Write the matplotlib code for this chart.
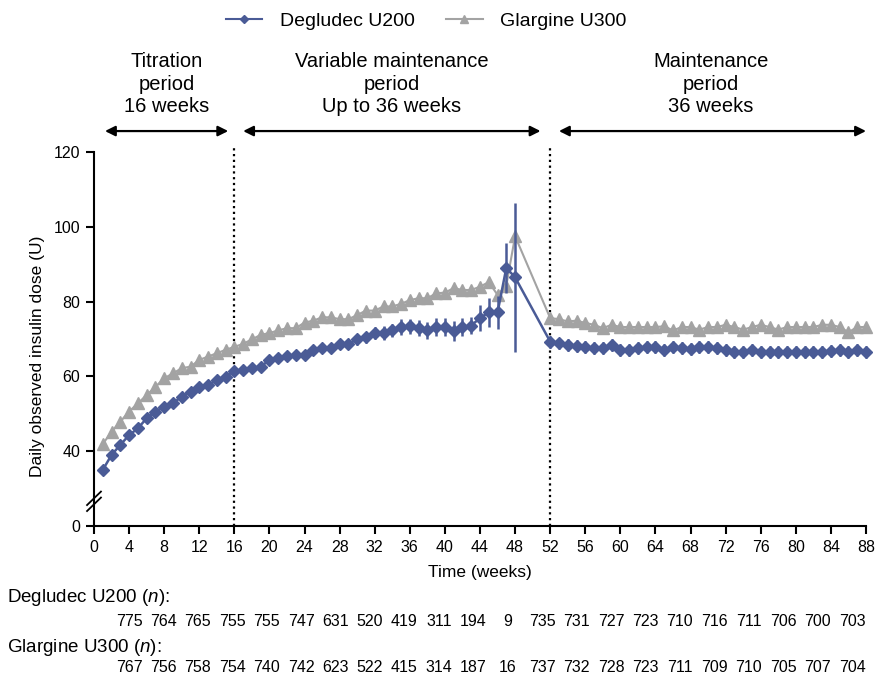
import matplotlib
matplotlib.use("Agg")
import matplotlib.pyplot as plt
from matplotlib.lines import Line2D
import numpy as np

plt.rcParams['font.family'] = ['Liberation Sans', 'DejaVu Sans']
plt.rcParams['mathtext.fontset'] = 'custom'
plt.rcParams['mathtext.rm'] = 'Liberation Sans'
plt.rcParams['mathtext.it'] = 'Liberation Sans:italic'

BLUE = '#4a5b96'
GREY = '#a3a3a3'

# weeks with observations
weeks = list(range(1, 49)) + list(range(52, 89))

# Degludec U200 mean daily dose (U)
deg_titration = [35.0, 39.0, 41.7, 44.3, 46.1, 48.8, 50.6, 51.9, 52.8, 54.6,
                 55.9, 57.2, 57.7, 59.0, 59.9, 61.5]
deg_variable = [61.8, 62.2, 62.6, 64.4, 64.8, 65.5, 65.7, 65.7, 67.1, 67.5,
                67.5, 68.7, 68.7, 69.9, 70.5, 71.6, 71.6, 72.3, 73.2, 73.4,
                72.9, 72.3, 73.2, 73.2, 72.1, 73.2, 73.6, 75.6, 77.1, 77.1,
                89.0, 86.5]
deg_maint = [69.3, 68.8, 68.4, 68.2, 67.9, 67.5, 67.5, 68.4, 67.1, 67.1,
             67.5, 67.9, 67.8, 67.1, 67.9, 67.5, 67.3, 67.8, 67.8, 67.5,
             67.1, 66.6, 66.6, 67.1, 66.6, 66.6, 66.6, 66.6, 66.6, 66.6,
             66.6, 66.6, 66.9, 67.1, 66.6, 67.1, 66.6]

# Degludec error bars (half-width, U)
deg_err_titration = [0.5] * 16
deg_err_variable = [0.8, 0.8, 0.8, 0.8, 0.8, 0.8, 0.8, 0.8, 1.2, 1.2,
                    1.2, 1.3, 1.3, 1.4, 1.5, 1.6, 1.8, 1.8, 2.1, 2.0,
                    2.2, 2.2, 2.3, 2.3, 2.7, 2.4, 2.3, 3.4, 3.8, 4.5,
                    6.7, 19.9]
deg_err_maint = [1.6] * 37

# Glargine U300 mean daily dose (U)
gla_titration = [41.9, 45.2, 47.9, 50.6, 52.8, 55.0, 57.2, 59.5, 60.8, 62.2,
                 62.6, 64.4, 65.3, 66.2, 67.1, 67.9]
gla_variable = [68.7, 69.9, 71.1, 71.6, 72.3, 72.9, 72.9, 74.4, 74.9, 75.8,
                75.8, 75.3, 75.3, 76.4, 77.6, 77.6, 78.7, 78.7, 79.4, 80.4,
                80.9, 80.9, 82.2, 82.4, 83.6, 83.1, 83.1, 84.0, 85.2, 81.8,
                84.3, 97.5]
gla_maint = [75.6, 75.3, 74.7, 74.9, 74.3, 73.8, 72.9, 73.8, 73.2, 73.2,
             73.2, 73.2, 73.2, 73.4, 72.3, 73.2, 73.2, 72.5, 73.2, 73.2,
             73.8, 73.2, 72.5, 73.2, 73.8, 73.2, 72.5, 73.2, 73.2, 73.2,
             73.2, 73.8, 73.8, 73.2, 71.8, 73.2, 73.2]

# patients at risk
deg_n = [775, 764, 765, 755, 755, 747, 631, 520, 419, 311, 194, 9,
         735, 731, 727, 723, 710, 716, 711, 706, 700, 703]
gla_n = [767, 756, 758, 754, 740, 742, 623, 522, 415, 314, 187, 16,
         737, 732, 728, 723, 711, 709, 710, 705, 707, 704]

deg = deg_titration + deg_variable + deg_maint
deg_err = deg_err_titration + deg_err_variable + deg_err_maint
gla = gla_titration + gla_variable + gla_maint

W, H = 875, 680
fig = plt.figure(figsize=(W / 100, H / 100), dpi=100)
ax = fig.add_axes([94 / W, 1 - 526 / H, 772 / W, 374 / H])

ax.plot(weeks, gla, color=GREY, lw=1.5, marker='^', ms=8.5, mec=GREY,
        mfc=GREY, clip_on=False, zorder=3)
ax.errorbar(weeks, deg, yerr=deg_err, color=BLUE, lw=1.8, elinewidth=1.8,
            capsize=0, marker='D', ms=6.5, mec=BLUE, mfc=BLUE,
            clip_on=False, zorder=4)

# period separators
for xv in (16, 52):
    ax.plot([xv, xv], [20, 122], color='black', lw=1.6,
            linestyle=(0, (1, 1.6)), clip_on=False, zorder=1)

# period arrows
for x0, x1 in ((1.25, 15.3), (17.0, 50.9), (53.0, 88.0)):
    ax.annotate('', xy=(x0, 125.6), xytext=(x1, 125.6),
                arrowprops=dict(arrowstyle='<|-|>', color='black', lw=1.6,
                                mutation_scale=15, shrinkA=0, shrinkB=0),
                annotation_clip=False)

ax.set_xlim(0, 88)
ax.set_ylim(20, 120)
ax.set_xticks(range(0, 89, 4))
ax.set_yticks([20, 40, 60, 80, 100, 120])
ax.set_yticklabels(['0', '40', '60', '80', '100', '120'])
for s in ('top', 'right'):
    ax.spines[s].set_visible(False)
for s in ('left', 'bottom'):
    ax.spines[s].set_linewidth(1.5)
ax.tick_params(axis='both', direction='out', length=6, width=1.5,
               labelsize=11.5, pad=4)

# axis break marks
tr = ax.get_yaxis_transform()
for dy in (0, 1.6):
    ax.plot([-0.009, 0.009], [24.0 + dy, 27.6 + dy], transform=tr,
            color='black', lw=1.3, clip_on=False)

ax.set_xlabel('Time (weeks)', fontsize=12.5, labelpad=7)
ax.set_ylabel('Daily observed insulin dose (U)', fontsize=12.5)
ax.yaxis.set_label_coords(-0.064, 0.455)

# period headers
fig.text(167 / W, 1 - 84 / H, 'Titration\nperiod\n16 weeks', ha='center',
         va='center', fontsize=14.5, linespacing=1.25)
fig.text(392 / W, 1 - 84 / H, 'Variable maintenance\nperiod\nUp to 36 weeks',
         ha='center', va='center', fontsize=14.5, linespacing=1.25)
fig.text(711 / W, 1 - 84 / H, 'Maintenance\nperiod\n36 weeks', ha='center',
         va='center', fontsize=14.5, linespacing=1.25)

# legend
handles = [Line2D([], [], color=BLUE, lw=1.5, marker='D', ms=4.5),
           Line2D([], [], color=GREY, lw=1.5, marker='^', ms=6)]
fig.legend(handles, ['Degludec U200', 'Glargine U300'], loc='center',
           bbox_to_anchor=(0.487, 1 - 21 / H), ncol=2, frameon=False,
           fontsize=14, handlelength=1.9, handletextpad=0.9,
           columnspacing=1.6)

# number at risk table (evenly spaced under the 4-weekly ticks)
fig.text(7 / W, 1 - 598 / H, 'Degludec U200 ($n$):', ha='left', va='center',
         fontsize=13.5)
fig.text(7 / W, 1 - 647 / H, 'Glargine U300 ($n$):', ha='left', va='center',
         fontsize=13.5)
xs = np.linspace(129, 852, len(deg_n)) / W
for xp, a, b in zip(xs, deg_n, gla_n):
    fig.text(xp, 1 - 622 / H, str(a), ha='center', va='center',
             fontsize=11.5)
    fig.text(xp, 1 - 668 / H, str(b), ha='center', va='center',
             fontsize=11.5)

fig.savefig('out.png', dpi=100)
